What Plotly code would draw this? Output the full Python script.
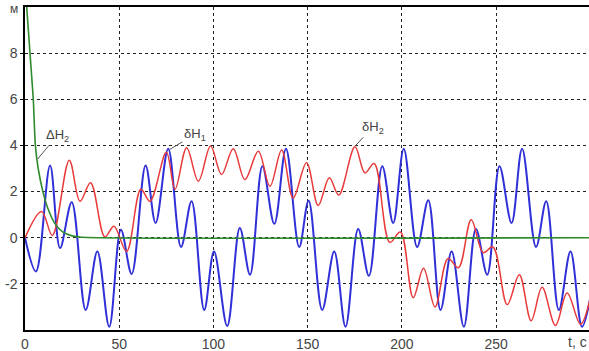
import plotly.graph_objects as go

# δH1 (blue) – turning points
t_h1 = [0, 5.8, 13.3, 18.6, 24.8, 32.2, 38.4, 44.7, 50.9, 56.6, 64.0, 69.3, 76.0, 82.8,
        88.4, 95.1, 100.3, 107.3, 114.0, 119.4, 126.0, 132.3, 138.5, 145.5, 150.5, 157.7,
        164.1, 170.1, 176.8, 182.5, 189.6, 195.4, 201.0, 208.1, 214.0, 220.5, 226.4, 232.9,
        239.3, 245.3, 251.8, 258.2, 263.8, 271.2, 276.6, 283.3, 289.5, 295.6, 300]
v_h1 = [0, -1.46, 3.13, -0.45, 1.54, -3.13, -0.6, -3.86, 0.35, -1.57, 3.13, 0.64, 3.86, -0.4,
        1.58, -3.13, -0.6, -3.83, 0.42, -1.6, 3.1, 0.6, 3.86, -0.4, 1.6, -3.13,
        -0.6, -3.86, 0.38, -1.65, 3.1, 0.64, 3.86, -0.4, 1.62, -3.13, -0.6, -3.86,
        0.38, -1.6, 3.1, 0.64, 3.86, -0.4, 1.58, -3.13, -0.6, -3.86, -2.6]

# δH2 (red)
t_h2 = [0, 8.8, 14.5, 23.5, 29.2, 34.8, 42.4, 47.2, 53.9, 61.5, 66.3, 75.0, 79.6, 85.8,
        92.0, 98.5, 104.3, 110.5, 116.7, 123.8, 130.0, 136.2, 142.3, 149.4, 155.6, 161.5,
        166.5, 175.1, 180.4, 185.3, 193.6, 199.2, 206.0, 211.5, 217.6, 224.5, 230.0, 236.8,
        243.2, 248.3, 255.9, 262.3, 268.6, 274.4, 281.5, 287.7, 294.8, 300]
v_h2 = [0, 1.14, 0.1, 3.36, 1.58, 2.38, 0.03, 0.5, -0.6, 2.1, 1.58, 3.7, 2.1, 3.9,
        2.45, 3.97, 2.74, 3.86, 2.52, 3.75, 2.23, 3.8, 1.72, 3.25, 1.4, 2.6,
        1.85, 3.94, 2.81, 3.22, -0.2, 0.25, -2.6, -1.32, -3.0, -0.9, -1.3, 0.78,
        -0.65, -0.4, -2.9, -1.6, -3.6, -2.15, -3.8, -2.4, -3.75, -2.6]

# ΔH2 (green)
t_dh2 = [0, 0.9, 2.65, 4.4, 5.5, 7.0, 9.5, 12.0, 16.0, 20.0, 25.0, 30.0, 300]
v_dh2 = [11.0, 10.0, 8.0, 6.0, 4.0, 3.0, 2.0, 1.3, 0.6, 0.25, 0.08, 0.02, 0.0]

x_ticks = [0, 50, 100, 150, 200, 250]
x_ticktext = ["0", "50", "100", "150", "200", "250"]
y_ticks = [-2, 0, 2, 4, 6, 8]
y_ticktext = ["-2", "0", "2", "4", "6", "8"]

fig = go.Figure()
fig.add_trace(go.Scatter(x=t_h1, y=v_h1, mode="lines",
                         line=dict(color="#3030d8", width=2, shape="spline", smoothing=1.0)))
fig.add_trace(go.Scatter(x=t_h2, y=v_h2, mode="lines",
                         line=dict(color="#e83a3a", width=1.5, shape="spline", smoothing=1.0)))
fig.add_trace(go.Scatter(x=t_dh2, y=v_dh2, mode="lines",
                         line=dict(color="#2e8b2e", width=1.6, shape="spline", smoothing=0.6)))

font_c = "#444444"
fam = "Liberation Sans, Arial, sans-serif"
ann_font = dict(family=fam, size=13, color=font_c)
arrow_kw = dict(showarrow=True, arrowhead=0, arrowwidth=1, arrowcolor="#555555")
fig.add_annotation(x=6.6, y=3.4, ax=20, ay=-24, text="ΔH<sub>2</sub>", font=ann_font, **arrow_kw)
fig.add_annotation(x=76.9, y=3.83, ax=25, ay=-15, text="δH<sub>1</sub>", font=ann_font, **arrow_kw)
fig.add_annotation(x=175, y=3.96, ax=18, ay=-19, text="δH<sub>2</sub>", font=ann_font, **arrow_kw)
fig.add_annotation(xref="paper", yref="paper", x=1.0, y=0, xanchor="right", yanchor="top",
                   yshift=-2, showarrow=False, text="t, с", font=dict(family=fam, size=14, color=font_c))
fig.add_annotation(xref="paper", yref="paper", x=0, y=1, xanchor="right", yanchor="top",
                   xshift=-5, yshift=7, showarrow=False, text="м",
                   font=dict(family=fam, size=12, color=font_c))

fig.update_layout(
    width=589, height=351,
    margin=dict(l=25, r=0, t=7, b=21),
    paper_bgcolor="white", plot_bgcolor="white",
    showlegend=False,
    font=dict(family=fam, size=14, color=font_c),
)
fig.update_xaxes(range=[0, 299.3], tickvals=x_ticks, ticktext=x_ticktext,
                 showgrid=True, gridcolor="#222222", gridwidth=1.3, griddash="dot",
                 showline=True, linecolor="black", linewidth=2, mirror=True,
                 ticks="", zeroline=False)
fig.update_yaxes(range=[-4, 10], tickvals=y_ticks, ticktext=y_ticktext,
                 showgrid=True, gridcolor="#222222", gridwidth=1.3, griddash="dot",
                 showline=True, linecolor="black", linewidth=1.5,
                 ticks="outside", ticklen=3, tickcolor="black", zeroline=False)

fig.write_html("out.html", config={"displayModeBar": False},
               post_script="document.body.style.margin='0';")
